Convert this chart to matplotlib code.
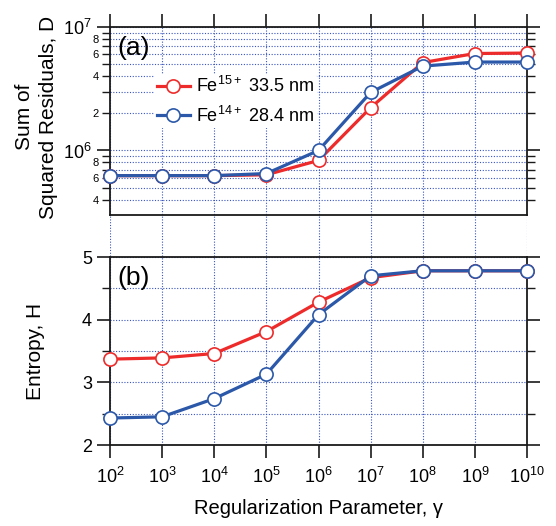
import numpy as np
import matplotlib
matplotlib.use("Agg")
import matplotlib.pyplot as plt
from matplotlib.ticker import FixedLocator, FixedFormatter, NullLocator

plt.rcParams['font.family'] = ['Liberation Sans', 'DejaVu Sans']
plt.rcParams['mathtext.fontset'] = 'custom'
plt.rcParams['mathtext.rm'] = 'Liberation Sans'
plt.rcParams['mathtext.it'] = 'Liberation Sans:italic'

# ---- data ----
gamma = [1e2, 1e3, 1e4, 1e5, 1e6, 1e7, 1e8, 1e9, 1e10]
D_fe15 = [6.25e5, 6.25e5, 6.25e5, 6.35e5, 8.3e5, 2.22e6, 5.15e6, 6.1e6, 6.15e6]
D_fe14 = [6.25e5, 6.25e5, 6.25e5, 6.5e5, 1.0e6, 2.95e6, 4.82e6, 5.2e6, 5.2e6]
H_fe15 = [3.37, 3.39, 3.46, 3.81, 4.28, 4.67, 4.78, 4.78, 4.78]
H_fe14 = [2.43, 2.45, 2.74, 3.13, 4.08, 4.70, 4.78, 4.78, 4.78]
label15 = r'Fe$^{15+}$ 33.5 nm'
label14 = r'Fe$^{14+}$ 28.4 nm'
xtick_vals = [1e2, 1e3, 1e4, 1e5, 1e6, 1e7, 1e8, 1e9, 1e10]
xtick_labels = [r'$\mathregular{10^{%d}}$' % e for e in range(2, 11)]

RED = '#ee2b2b'
BLUE = '#2b58a8'
GRID = '#3a55c0'
SPINE = '#1a1a1a'

W, H = 556, 526
fig = plt.figure(figsize=(W/100, H/100), dpi=100)

L, R = 110, 527
top_t, top_b = 27, 215
bot_t, bot_b = 257, 445

def rect(t, b):
    return [L/W, 1 - b/H, (R-L)/W, (b-t)/H]

# background axes for vertical gridlines spanning both panels
bg = fig.add_axes(rect(top_t, bot_b), zorder=0)
bg.set_xscale('log')
bg.set_xlim(1e2, 1e10)
for xv in xtick_vals:
    bg.axvline(xv, color=GRID, lw=0.8, ls=(0, (1, 1.5)))
bg.axis('off')

ax1 = fig.add_axes(rect(top_t, top_b), zorder=2)
ax2 = fig.add_axes(rect(bot_t, bot_b), zorder=2)

mk = dict(marker='o', markersize=9.5, markerfacecolor='white', markeredgewidth=1.2,
          lw=2.3, clip_on=False)

for ax in (ax1, ax2):
    ax.set_facecolor('none')
    ax.set_xscale('log')
    ax.set_xlim(1e2, 1e10)
    for s in ax.spines.values():
        s.set_linewidth(1.3)
        s.set_color(SPINE)
    ax.xaxis.set_major_locator(FixedLocator(xtick_vals))
    ax.xaxis.set_minor_locator(NullLocator())
    ax.tick_params(which='major', direction='out', length=9.5, width=1.2, color=SPINE,
                   labelsize=13)
    ax.tick_params(which='minor', direction='out', length=6, width=1.0, color=SPINE,
                   labelsize=8, pad=2)
    ax.tick_params(axis='y', which='both', left=True, right=True)

# ---- top panel ----
ax1.plot(gamma, D_fe15, color=RED, markeredgecolor=RED, label=label15, zorder=3, **mk)
ax1.plot(gamma, D_fe14, color=BLUE, markeredgecolor=BLUE, label=label14, zorder=4, **mk)
ax1.set_yscale('log')
ax1.set_ylim(3.0e5, 1e7)
ax1.yaxis.set_major_locator(FixedLocator([1e6, 1e7]))
ax1.yaxis.set_major_formatter(FixedFormatter([r'$\mathregular{10^{6}}$', r'$\mathregular{10^{7}}$']))
minor_vals = [4e5, 5e5, 6e5, 7e5, 8e5, 9e5, 2e6, 3e6, 4e6, 5e6, 6e6, 7e6, 8e6, 9e6]
minor_labs = ['4', '', '6', '', '8', '', '2', '', '4', '', '6', '', '8', '']
ax1.yaxis.set_minor_locator(FixedLocator(minor_vals))
ax1.yaxis.set_minor_formatter(FixedFormatter(minor_labs))
ax1.tick_params(axis='x', which='both', top=True, bottom=False, labelbottom=False)
ax1.grid(True, axis='y', which='both', color=GRID, lw=0.8, ls=(0, (1, 1.5)))
ax1.set_axisbelow(True)
ax1.set_ylabel('Sum of\nSquared Residuals, D', fontsize=15, linespacing=1.3)
ax1.yaxis.set_label_coords(-0.125, 0.52)
ax1.text(0.017, 0.95, '(a)', transform=ax1.transAxes, fontsize=19, va='top', ha='left')
leg = ax1.legend(loc='upper left', bbox_to_anchor=(0.085, 0.80), fontsize=13,
                 frameon=True, framealpha=1, edgecolor='none', facecolor='white',
                 handlelength=1.8, handletextpad=0.35, borderpad=0.15, labelspacing=0.5)

# ---- bottom panel ----
ax2.plot(gamma, H_fe15, color=RED, markeredgecolor=RED, zorder=3, **mk)
ax2.plot(gamma, H_fe14, color=BLUE, markeredgecolor=BLUE, zorder=4, **mk)
ax2.set_ylim(2, 5)
ax2.yaxis.set_major_locator(FixedLocator([2, 3, 4, 5]))
ax2.yaxis.set_minor_locator(FixedLocator([2.5, 3.5, 4.5]))
ax2.tick_params(axis='y', which='minor', labelleft=False)
ax2.xaxis.set_major_formatter(FixedFormatter(xtick_labels))
ax2.tick_params(axis='x', which='both', top=False, bottom=True, pad=6)
ax2.grid(True, axis='y', which='both', color=GRID, lw=0.8, ls=(0, (1, 1.5)))
ax2.set_axisbelow(True)
ax2.set_ylabel('Entropy, H', fontsize=15)
ax2.yaxis.set_label_coords(-0.156, 0.5)
ax2.set_xlabel('Regularization Parameter, γ', fontsize=14.5, labelpad=9)
ax2.text(0.017, 0.95, '(b)', transform=ax2.transAxes, fontsize=19, va='top', ha='left')

fig.savefig('out.png', dpi=100)
